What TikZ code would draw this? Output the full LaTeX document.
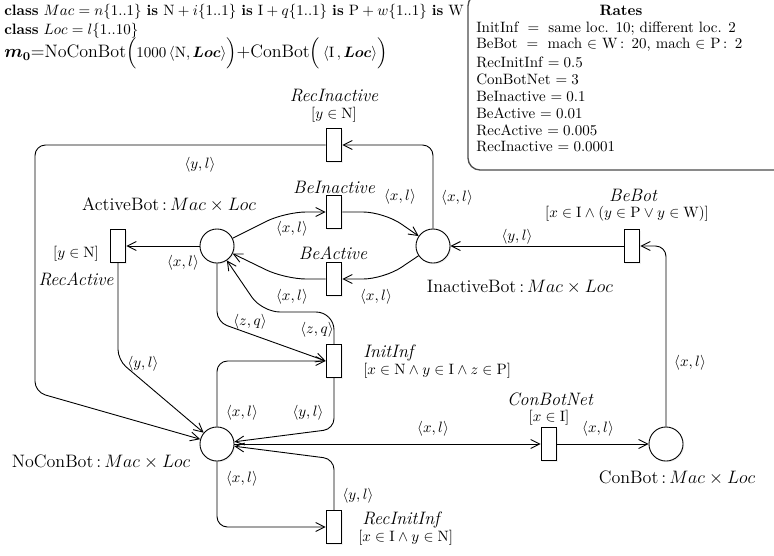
\documentclass[tikz,border=0pt]{standalone}
\usepackage{amsmath,amssymb,bm}
\usetikzlibrary{arrows.meta,shadows}

\tikzset{
  place/.style={circle, draw, fill=white, line width=0.6pt, minimum size=22.7pt, inner sep=0pt,
    drop shadow={opacity=0.12, shadow xshift=0.8pt, shadow yshift=-0.8pt}},
  trans/.style={rectangle, draw, fill=white, line width=0.6pt, minimum width=10.5pt, minimum height=22pt, inner sep=0pt,
    drop shadow={opacity=0.12, shadow xshift=0.8pt, shadow yshift=-0.8pt}},
  arc/.style={-{Straight Barb[length=6pt,width=6pt]}, line width=0.6pt, rounded corners=7pt},
  lab/.style={inner sep=1pt},
  pname/.style={font=\large, inner sep=1pt},
  tname/.style={font=\large\itshape, inner sep=0pt},
  guard/.style={inner sep=0pt},
}

\begin{document}
\begin{tikzpicture}[x=0.6667pt, y=0.6667pt]
        \useasboundingbox (0,0) rectangle (774,-555);

        % Colour classes and initial marking
        \node[anchor=north west, inner sep=0pt, align=left] (classes) at (4,-4)
          {\textbf{class} $Mac = n\{1..1\}$ \textbf{is} $\mathrm{N} + i\{1..1\}$ \textbf{is} $\mathrm{I} + q\{1..1\}$ \textbf{is} $\mathrm{P} + w\{1..1\}$ \textbf{is} W\\[0.5pt]
           \textbf{class} $Loc = l\{1..10\}$};
        \node[anchor=west, inner sep=0pt, font=\fontsize{11.5pt}{14pt}\selectfont] (mzero) at (4,-53)
          {$\bm{m_0}{=}\mathrm{NoConBot}\Big(\text{\normalsize$1000\,\langle\mathrm{N},\bm{Loc}\rangle$}\Big){+}\mathrm{ConBot}\Big(\,\text{\normalsize$\langle\mathrm{I}\,,\bm{Loc}\rangle$}\Big)$};

        % Rates box (runs off the top and right edge)
        \draw[rounded corners=8pt, line width=0.9pt, draw=black!70] (468,6) rectangle (800,-170);
        \node[font=\bfseries] (ratestitle) at (621,-10) {Rates};
        \node[anchor=west, inner sep=0pt] (rinit) at (476,-29) {InitInf $\;=\;$ same loc. 10; different loc. 2};
        \node[anchor=west, inner sep=0pt] (rbebot) at (476,-45) {BeBot $\;=\;$ mach $\in$ W$\,:\,$ 20, mach $\in$ P$\,:\,$ 2};
        \node[anchor=west, inner sep=0pt] (rrecinit) at (476,-62) {RecInitInf $=0.5$};
        \node[anchor=west, inner sep=0pt] (rcbnet) at (476,-79) {ConBotNet $=3$};
        \node[anchor=west, inner sep=0pt] (rbeinact) at (476,-96) {BeInactive $=0.1$};
        \node[anchor=west, inner sep=0pt] (rbeact) at (476,-113) {BeActive $=0.01$};
        \node[anchor=west, inner sep=0pt] (rrecact) at (476,-130) {RecActive $=0.005$};
        \node[anchor=west, inner sep=0pt] (rrecinact) at (476,-147) {RecInactive $=0.0001$};

        % Places
        \node[place] (active) at (217,-246) {};
        \node[place] (inact) at (433,-246) {};
        \node[place] (nocon) at (217,-444) {};
        \node[place] (conbot) at (666,-444) {};

        \node[pname] (activelab) at (169,-205) {ActiveBot$\,{:}\,Mac\times Loc$};
        \node[pname] (inactlab) at (520,-287) {InactiveBot$\,{:}\,Mac\times Loc$};
        \node[pname] (noconlab) at (101,-462) {NoConBot$\,{:}\,Mac\times Loc$};
        \node[pname] (conbotlab) at (677,-478) {ConBot$\,{:}\,Mac\times Loc$};

        % Transitions
        \node[trans] (recinact) at (334,-145) {};
        \node[trans] (beinact) at (334,-212) {};
        \node[trans] (beact) at (334,-279) {};
        \node[trans] (recact) at (118,-246) {};
        \node[trans] (initinf) at (334,-361) {};
        \node[trans] (recinit) at (334,-527) {};
        \node[trans] (cbnet) at (549,-444) {};
        \node[trans] (bebot) at (632,-246) {};

        % Transition names and guards
        \node[tname] (recinactname) at (334,-96) {RecInactive};
        \node[guard] (recinactgd) at (334,-115) {$[y\in\mathrm{N}]$};
        \node[tname] (beinactname) at (334,-187) {BeInactive};
        \node[tname] (beactname) at (333,-253) {BeActive};
        \node[guard] (recactgd) at (76,-254) {$[y\in\mathrm{N}]$};
        \node[tname] (recactname) at (76,-279) {RecActive};
        \node[tname] (bebotname) at (633,-195) {BeBot};
        \node[guard] (bebotgd) at (627,-214) {$[x\in\mathrm{I}\wedge(y\in\mathrm{P}\vee y\in\mathrm{W})]$};
        \node[tname, anchor=west] (initinfname) at (363,-353) {InitInf};
        \node[guard, anchor=west] (initinfgd) at (363,-371) {$[x\in\mathrm{N}\wedge y\in\mathrm{I}\wedge z\in\mathrm{P}]$};
        \node[tname, anchor=west] (recinitname) at (362,-520) {RecInitInf};
        \node[guard, anchor=west] (recinitgd) at (358,-538) {$[x\in\mathrm{I}\wedge y\in\mathrm{N}]$};
        \node[tname] (cbnetname) at (550,-399) {ConBotNet};
        \node[guard] (cbnetgd) at (549,-418) {$[x\in\mathrm{I}]$};

        % Arcs around ActiveBot / InactiveBot
        \draw[arc] (active) -- (recact) node[lab] at (183,-263) {$\langle x,l\rangle$};
        \draw[arc] (recact.south) -- (118,-360) -- (nocon) node[lab] at (143,-364) {$\langle y,l\rangle$};
        \draw[arc, rounded corners=14pt] (active) -- (285,-212) -- (beinact.west) node[lab] at (292,-229) {$\langle x,l\rangle$};
        \draw[arc, rounded corners=14pt] (beinact.east) -- (384,-212) -- (inact) node[lab] at (400,-197) {$\langle x,l\rangle$};
        \draw[arc, rounded corners=14pt] (inact) -- (384,-279) -- (beact.east) node[lab] at (376,-297) {$\langle x,l\rangle$};
        \draw[arc, rounded corners=14pt] (beact.west) -- (285,-279) -- (active) node[lab] at (292,-297) {$\langle x,l\rangle$};
        \draw[arc] (inact.north) |- (recinact.east) node[lab] at (457,-198) {$\langle x,l\rangle$};
        \draw[arc] (recinact.west) -- (35,-145) -- (35,-392) -- (nocon) node[lab] at (200,-165) {$\langle y,l\rangle$};

        % Arcs of the infection part
        \draw[arc] (bebot) -- (inact) node[lab] at (517,-237) {$\langle y,l\rangle$};
        \draw[arc] (conbot.north) |- (bebot.east) node[lab] at (690,-363) {$\langle x,l\rangle$};
        \draw[arc] (nocon) -- (cbnet) node[lab] at (433,-429) {$\langle x,l\rangle$};
        \draw[arc] (cbnet) -- (conbot) node[lab] at (598,-429) {$\langle x,l\rangle$};
        \draw[arc] (active.south) -- (217,-322) -- (initinf.west) node[lab] at (250,-322) {$\langle z,q\rangle$};
        \draw[arc, rounded corners=12pt] (initinf.north) -- (334,-312) -- (262,-312) -- (active) node[lab] at (317,-330) {$\langle z,q\rangle$};
        \draw[arc] (nocon.north) |- (initinf.west) node[lab] at (242,-413) {$\langle x,l\rangle$};
        \draw[arc] (initinf.south) -- (334,-429) -- (nocon) node[lab] at (308,-413) {$\langle y,l\rangle$};
        \draw[arc] (nocon.south) |- (recinit.west) node[lab] at (242,-479) {$\langle x,l\rangle$};
        \draw[arc] (recinit.north) -- (334,-459) -- (nocon) node[lab] at (358,-496) {$\langle y,l\rangle$};
\end{tikzpicture}
\end{document}
